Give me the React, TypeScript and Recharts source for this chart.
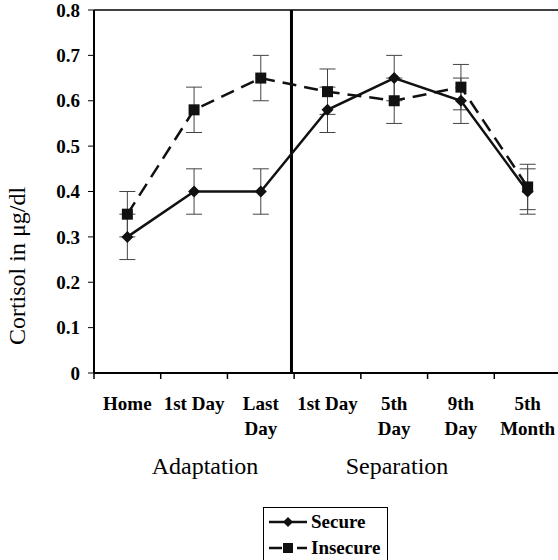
import React from "react";
import { LineChart, Line, XAxis, YAxis, ErrorBar, ReferenceLine } from "recharts";

const stageLabels = [
  ["Home"],
  ["1st Day"],
  ["Last", "Day"],
  ["1st Day"],
  ["5th", "Day"],
  ["9th", "Day"],
  ["5th", "Month"],
];
const secure = [0.3, 0.4, 0.4, 0.58, 0.65, 0.6, 0.4];
const insecure = [0.35, 0.58, 0.65, 0.62, 0.6, 0.63, 0.41];
const secureErr = [0.05, 0.05, 0.05, 0.05, 0.05, 0.05, 0.05];
const insecureErr = [0.05, 0.05, 0.05, 0.05, 0.05, 0.05, 0.05];
const yTicks = [0, 0.1, 0.2, 0.3, 0.4, 0.5, 0.6, 0.7, 0.8];
const phases = ["Adaptation", "Separation"];

const serif = "Liberation Serif";

const data = stageLabels.map((_, i) => ({
  pos: i + 0.5,
  secure: secure[i],
  insecure: insecure[i],
  secureErr: secureErr[i],
  insecureErr: insecureErr[i],
}));

// ticks on the band edges, labels in the middle of each band
const xTicks = Array.from({ length: stageLabels.length * 2 + 1 }, (_, i) => i / 2);

function XTick(props: any) {
  const { x, y, payload } = props;
  const v = payload.value;
  if (Number.isInteger(v)) {
    return <line x1={x} x2={x} y1={y} y2={y + 6} stroke="#000" strokeWidth={1.5} />;
  }
  const lines = stageLabels[Math.floor(v)];
  return (
    <text textAnchor="middle" fontFamily={serif} fontWeight="bold" fontSize={19} fill="#000">
      {lines.map((l, k) => (
        <tspan key={k} x={x} y={y + 37 + k * 25}>
          {l}
        </tspan>
      ))}
    </text>
  );
}

const diamond = (p: any) => {
  const { cx, cy } = p;
  const r = 6;
  return (
    <path
      key={"d" + p.index}
      d={`M${cx},${cy - r}L${cx + r},${cy}L${cx},${cy + r}L${cx - r},${cy}Z`}
      fill="#111"
    />
  );
};

const square = (p: any) => {
  const { cx, cy } = p;
  return <rect key={"s" + p.index} x={cx - 5.5} y={cy - 5.5} width={11} height={11} fill="#111" />;
};

export default function App() {
  return (
    <div
      style={{
        position: "fixed",
        left: 0,
        top: 0,
        width: 558,
        height: 560,
        overflow: "hidden",
        background: "#fff",
      }}
    >
      <LineChart
        width={561}
        height={560}
        data={data}
        margin={{ top: 10, right: 0, bottom: 0, left: 0 }}
      >
        <XAxis
          dataKey="pos"
          type="number"
          domain={[0, 7]}
          ticks={xTicks}
          interval={0}
          tick={<XTick />}
          tickLine={false}
          tickSize={0}
          tickMargin={0}
          height={187}
          axisLine={{ stroke: "#000", strokeWidth: 2 }}
        />
        <YAxis
          domain={[0, 0.8]}
          ticks={yTicks}
          interval={0}
          width={94}
          tickSize={6}
          tickMargin={8}
          tickFormatter={(v: number) => (v === 0 ? "0" : v.toFixed(1))}
          tick={{ fontFamily: serif, fontWeight: "bold", fontSize: 19, fill: "#000" }}
          tickLine={{ stroke: "#000", strokeWidth: 1 }}
          axisLine={{ stroke: "#000", strokeWidth: 2 }}
        />
        <ReferenceLine y={0.8} stroke="#000" strokeWidth={1.5} />
        <ReferenceLine x={2.96} stroke="#000" strokeWidth={3} />
        <Line
          type="linear"
          dataKey="insecure"
          stroke="#111"
          strokeWidth={2.5}
          strokeDasharray="14 8"
          dot={square}
          isAnimationActive={false}
        >
          <ErrorBar dataKey="insecureErr" width={8} stroke="#444" strokeWidth={1} direction="y" />
        </Line>
        <Line
          type="linear"
          dataKey="secure"
          stroke="#111"
          strokeWidth={2.5}
          dot={diamond}
          isAnimationActive={false}
        >
          <ErrorBar dataKey="secureErr" width={8} stroke="#444" strokeWidth={1} direction="y" />
        </Line>
      </LineChart>

      {/* axis title, phase names and legend drawn on top */}
      <svg width={558} height={560} style={{ position: "absolute", left: 0, top: 0, pointerEvents: "none" }}>
        <text
          transform="translate(25,266) rotate(-90)"
          textAnchor="middle"
          fontFamily={serif}
          fontSize={24}
          fill="#000"
        >
          Cortisol in μg/dl
        </text>
        {phases.map((p, i) => (
          <text
            key={p}
            x={i === 0 ? 205 : 397}
            y={474}
            textAnchor="middle"
            fontFamily={serif}
            fontSize={24}
            fill="#000"
          >
            {p}
          </text>
        ))}
        <g transform="translate(263,507)">
          <rect x={0.5} y={0.5} width={124} height={60} fill="#fff" stroke="#000" strokeWidth={1} />
          <line x1={6} x2={44} y1={15} y2={15} stroke="#111" strokeWidth={2.5} />
          <path d="M25,10L30,15L25,20L20,15Z" fill="#111" />
          <text x={48} y={21} fontFamily={serif} fontWeight="bold" fontSize={19} fill="#000">
            Secure
          </text>
          <line x1={6} x2={19} y1={41} y2={41} stroke="#111" strokeWidth={2.5} />
          <rect x={20} y={36} width={10} height={10} fill="#111" />
          <line x1={34} x2={44} y1={41} y2={41} stroke="#111" strokeWidth={2.5} />
          <text x={48} y={47} fontFamily={serif} fontWeight="bold" fontSize={19} fill="#000">
            Insecure
          </text>
        </g>
      </svg>
    </div>
  );
}
